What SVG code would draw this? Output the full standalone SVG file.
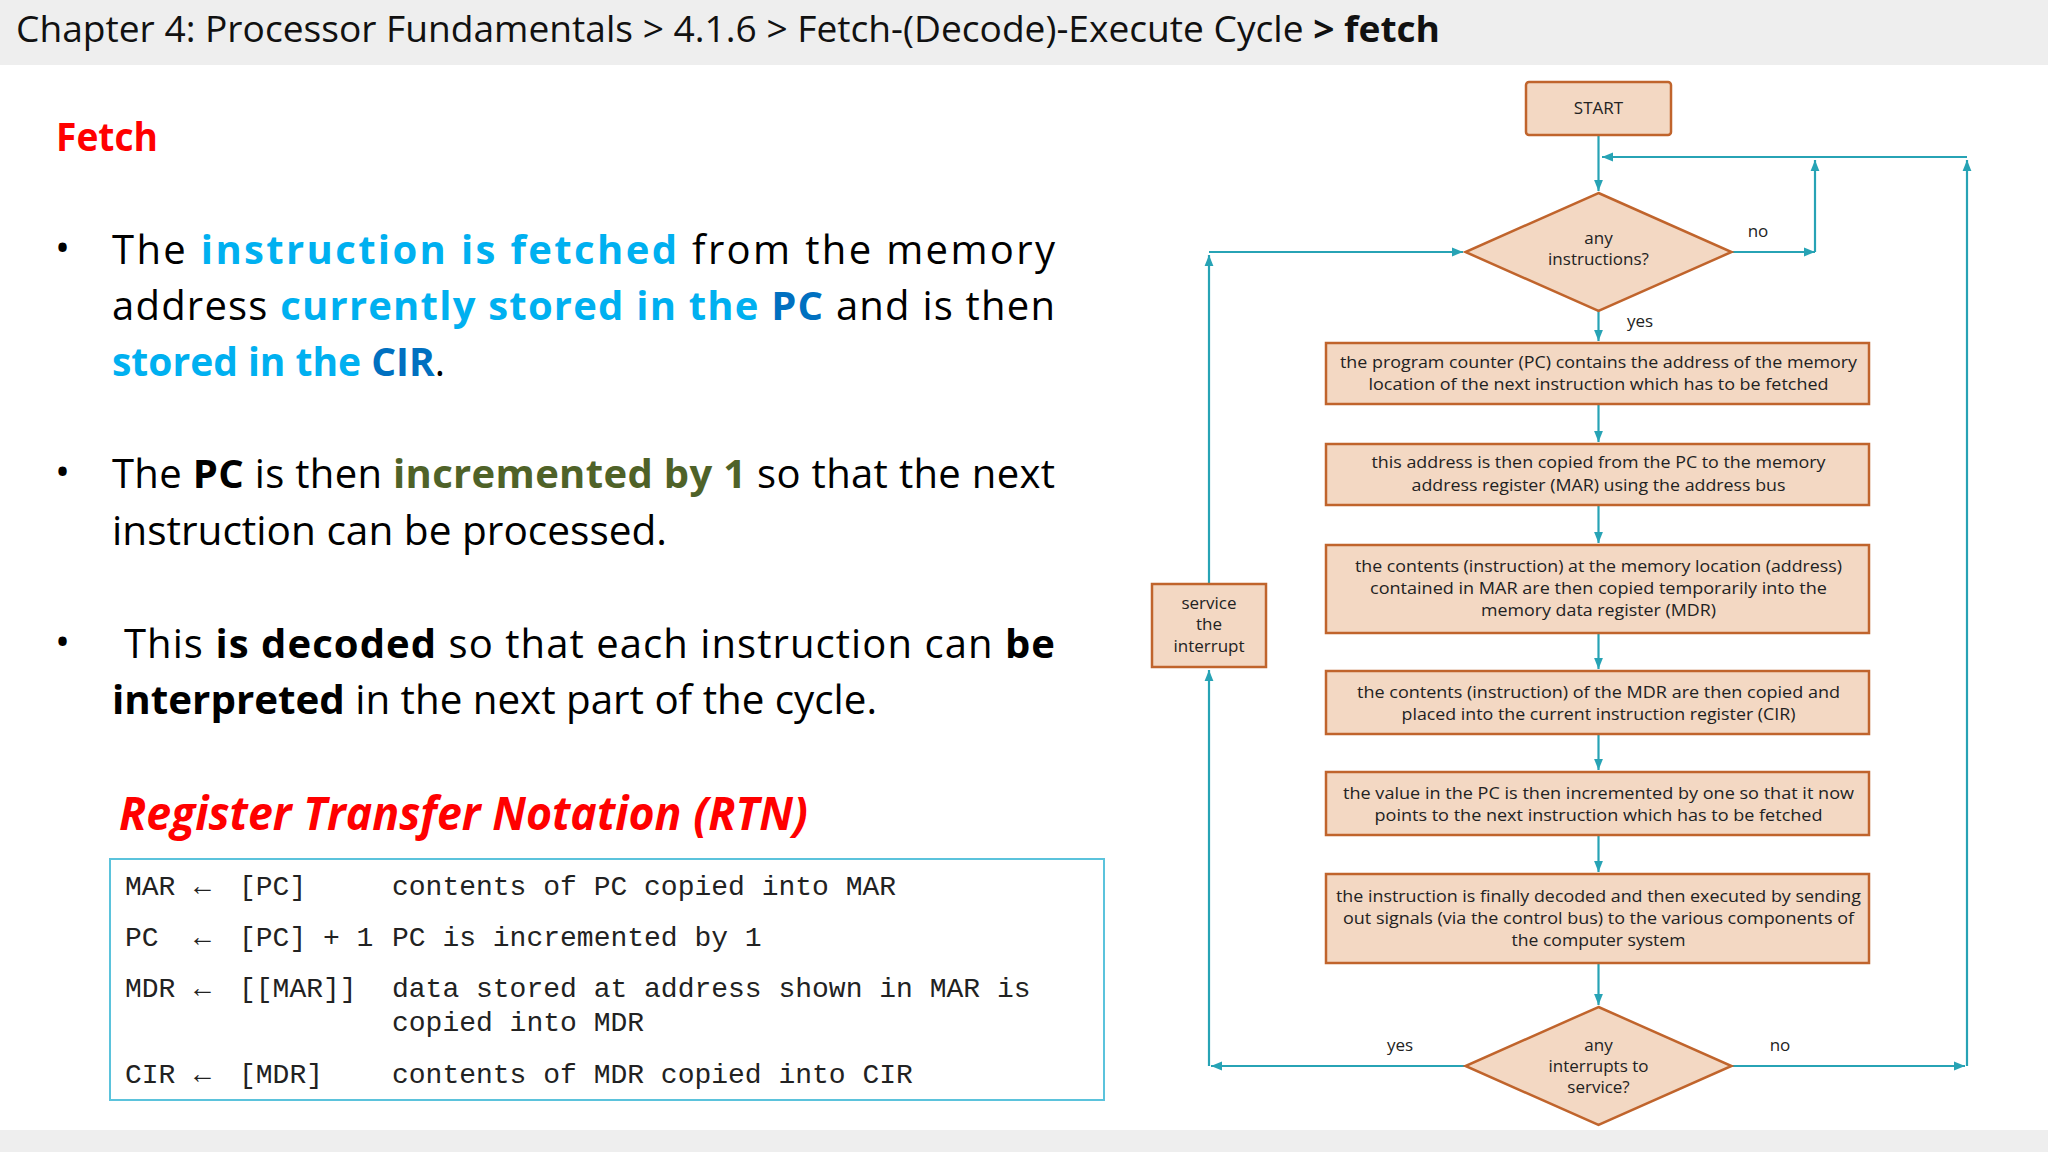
<svg xmlns="http://www.w3.org/2000/svg" width="2048" height="1152" viewBox="0 0 2048 1152">
<style>
.b{font-family:"Open Sans","Liberation Sans",sans-serif;font-size:40px;fill:#000}
.lb{fill:#00b0f0;font-weight:bold}.db{fill:#0070c0;font-weight:bold}.gr{fill:#4f6228;font-weight:bold}.bo{font-weight:bold}
.m{font-family:"Liberation Mono",monospace;font-size:28px;fill:#222}
.n rect,.n polygon{fill:#f3d8c3;stroke:#c0642c;stroke-width:2.5}
.n text{font-family:"Open Sans","Liberation Sans",sans-serif;font-size:17px;fill:#222;text-anchor:middle}
.c path{fill:none;stroke:#27a3b5;stroke-width:2.2;marker-end:url(#a)}
.lab{font-family:"Open Sans","Liberation Sans",sans-serif;font-size:17px;fill:#222;text-anchor:middle}
</style>
<defs><marker id="a" viewBox="0 0 10 10" refX="10" refY="5" markerWidth="5" markerHeight="5" orient="auto"><path d="M0,1 L10,5 L0,9 z" fill="#27a3b5"/></marker></defs>
<rect width="2048" height="1152" fill="#fff"/>
<rect width="2048" height="65" fill="#eeeeee"/>
<rect y="1130" width="2048" height="22" fill="#eeeeee"/>
<text x="16" y="42" font-family="Open Sans,Liberation Sans,sans-serif" font-size="36" fill="#111" textLength="1424" lengthAdjust="spacingAndGlyphs">Chapter 4: Processor Fundamentals &gt; 4.1.6 &gt; Fetch-(Decode)-Execute Cycle <tspan font-weight="bold">&gt; fetch</tspan></text>
<text x="56" y="151" font-family="Open Sans,Liberation Sans,sans-serif" font-size="40" font-weight="bold" fill="#ff0000" textLength="102" lengthAdjust="spacingAndGlyphs">Fetch</text>
<g class="b">
<text x="55" y="262">•</text><text x="55" y="486">•</text><text x="55" y="656">•</text>
<text x="112" y="264" textLength="943" lengthAdjust="spacing">The <tspan class="lb">instruction is fetched</tspan> from the memory</text>
<text x="112" y="320" textLength="943" lengthAdjust="spacing">address <tspan class="lb">currently stored in the</tspan> <tspan class="db">PC</tspan> and is then</text>
<text x="112" y="376" textLength="333" lengthAdjust="spacingAndGlyphs"><tspan class="lb">stored in the</tspan> <tspan class="db">CIR</tspan>.</text>
<text x="112" y="488" textLength="943" lengthAdjust="spacing">The <tspan class="bo">PC</tspan> is then <tspan class="gr">incremented by 1</tspan> so that the next</text>
<text x="112" y="545" textLength="555" lengthAdjust="spacingAndGlyphs">instruction can be processed.</text>
<text x="124" y="658" textLength="931" lengthAdjust="spacing">This <tspan class="bo">is decoded</tspan> so that each instruction can <tspan class="bo">be</tspan></text>
<text x="112" y="714" textLength="765" lengthAdjust="spacingAndGlyphs"><tspan class="bo">interpreted</tspan> in the next part of the cycle.</text>
</g>
<text x="119" y="830" font-family="Open Sans,Liberation Sans,sans-serif" font-size="46" font-weight="bold" font-style="italic" fill="#ff0000" textLength="689" lengthAdjust="spacingAndGlyphs">Register Transfer Notation (RTN)</text>
<rect x="110" y="859" width="994" height="241" fill="none" stroke="#5bc3dc" stroke-width="2"/>
<g class="m">
<text x="125" y="895">MAR</text><text x="194" y="895">←</text><text x="239" y="895">[PC]</text><text x="392" y="895">contents of PC copied into MAR</text>
<text x="125" y="946">PC</text><text x="194" y="946">←</text><text x="239" y="946">[PC] + 1</text><text x="392" y="946">PC is incremented by 1</text>
<text x="125" y="997">MDR</text><text x="194" y="997">←</text><text x="239" y="997">[[MAR]]</text><text x="392" y="997">data stored at address shown in MAR is</text>
<text x="392" y="1031">copied into MDR</text>
<text x="125" y="1083">CIR</text><text x="194" y="1083">←</text><text x="239" y="1083">[MDR]</text><text x="392" y="1083">contents of MDR copied into CIR</text>
</g>
<g class="c">
<path d="M1598.5,135 V191"/>
<path d="M1967,157 H1602"/>
<path d="M1731.5,252 H1815"/>
<path d="M1815,252 V160"/>
<path d="M1598.5,311 V341"/>
<path d="M1598.5,404 V442"/>
<path d="M1598.5,505 V543"/>
<path d="M1598.5,633 V669"/>
<path d="M1598.5,734 V770"/>
<path d="M1598.5,835 V872"/>
<path d="M1598.5,963 V1005"/>
<path d="M1465.5,1066 H1211"/>
<path d="M1209,1066 V670"/>
<path d="M1209,584 V255"/>
<path d="M1209,252 H1463"/>
<path d="M1731.5,1066 H1965"/>
<path d="M1967,1066 V160"/>
</g>
<text class="lab" x="1758" y="237">no</text>
<text class="lab" x="1640" y="327">yes</text>
<text class="lab" x="1400" y="1051">yes</text>
<text class="lab" x="1780" y="1051">no</text>
<g id="start" class="n"><rect x="1526" y="82" width="145" height="53" rx="3"/><text x="1598.5" y="114">START</text></g>
<g id="d1" class="n"><polygon points="1598.5,193 1731.5,252 1598.5,311 1465.5,252"/><text x="1598.5" y="244">any</text><text x="1598.5" y="265">instructions?</text></g>
<g id="b1" class="n"><rect x="1326" y="343" width="543" height="61"/><text x="1598.5" y="368" textLength="517" lengthAdjust="spacingAndGlyphs">the program counter (PC) contains the address of the memory</text><text x="1598.5" y="390" textLength="460" lengthAdjust="spacingAndGlyphs">location of the next instruction which has to be fetched</text></g>
<g id="b2" class="n"><rect x="1326" y="444" width="543" height="61"/><text x="1598.5" y="468" textLength="454" lengthAdjust="spacingAndGlyphs">this address is then copied from the PC to the memory</text><text x="1598.5" y="491" textLength="374" lengthAdjust="spacingAndGlyphs">address register (MAR) using the address bus</text></g>
<g id="b3" class="n"><rect x="1326" y="545" width="543" height="88"/><text x="1598.5" y="572" textLength="487" lengthAdjust="spacingAndGlyphs">the contents (instruction) at the memory location (address)</text><text x="1598.5" y="594" textLength="457" lengthAdjust="spacingAndGlyphs">contained in MAR are then copied temporarily into the</text><text x="1598.5" y="616" textLength="235" lengthAdjust="spacingAndGlyphs">memory data register (MDR)</text></g>
<g id="b4" class="n"><rect x="1326" y="671" width="543" height="63"/><text x="1598.5" y="698" textLength="483" lengthAdjust="spacingAndGlyphs">the contents (instruction) of the MDR are then copied and</text><text x="1598.5" y="720" textLength="394" lengthAdjust="spacingAndGlyphs">placed into the current instruction register (CIR)</text></g>
<g id="b5" class="n"><rect x="1326" y="772" width="543" height="63"/><text x="1598.5" y="799" textLength="511" lengthAdjust="spacingAndGlyphs">the value in the PC is then incremented by one so that it now</text><text x="1598.5" y="821" textLength="448" lengthAdjust="spacingAndGlyphs">points to the next instruction which has to be fetched</text></g>
<g id="b6" class="n"><rect x="1326" y="874" width="543" height="89"/><text x="1598.5" y="902" textLength="525" lengthAdjust="spacingAndGlyphs">the instruction is finally decoded and then executed by sending</text><text x="1598.5" y="924" textLength="511" lengthAdjust="spacingAndGlyphs">out signals (via the control bus) to the various components of</text><text x="1598.5" y="946" textLength="174" lengthAdjust="spacingAndGlyphs">the computer system</text></g>
<g id="d2" class="n"><polygon points="1598.5,1007 1731.5,1066 1598.5,1125 1465.5,1066"/><text x="1598.5" y="1051">any</text><text x="1598.5" y="1072">interrupts to</text><text x="1598.5" y="1093">service?</text></g>
<g id="svc" class="n"><rect x="1152" y="584" width="114" height="83"/><text x="1209" y="609">service</text><text x="1209" y="630">the</text><text x="1209" y="652">interrupt</text></g>
</svg>
